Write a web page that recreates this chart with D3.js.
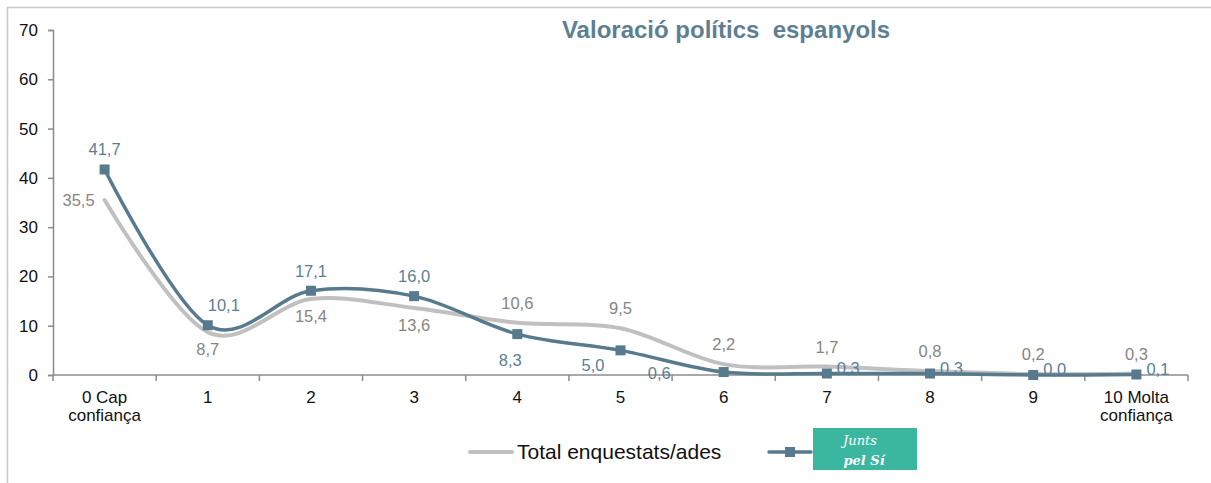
<!DOCTYPE html>
<html>
<head>
<meta charset="utf-8">
<script src="https://cdn.jsdelivr.net/npm/d3@7"></script>
<style>
  body { margin: 0; background: #fff; }
  #chart { width: 1211px; height: 483px; }
  text { font-family: "Liberation Sans", Arial, sans-serif; }
</style>
</head>
<body>
<div id="chart"></div>
<script>
// data
const categories = ["0 Cap|confiança", "1", "2", "3", "4", "5", "6", "7", "8", "9", "10 Molta|confiança"];
const totalValues = [35.5, 8.7, 15.4, 13.6, 10.6, 9.5, 2.2, 1.7, 0.8, 0.2, 0.3];
const jxsiValues = [41.7, 10.1, 17.1, 16.0, 8.3, 5.0, 0.6, 0.3, 0.3, 0.0, 0.1];
const yTicks = [0, 10, 20, 30, 40, 50, 60, 70];
// where each data label sits relative to its point
const totalLabelPos = ["left", "below", "below", "below", "above", "above", "above", "above", "above", "above", "above"];
const jxsiLabelPos = ["above", "aboveRight", "above", "above", "lowBelow", "belowLeft", "farLeft", "right", "right", "right", "right"];

const grayColor = "#c0c0c0";
const blueColor = "#587a8e";

const margin = { top: 30, right: 23, bottom: 108, left: 53 };
const W = 1211, H = 483;
const width = W - margin.left - margin.right;
const height = H - margin.top - margin.bottom;

const svgRoot = d3.select("#chart").append("svg")
    .attr("width", W).attr("height", H);

// frame (only top/left visible)
svgRoot.append("rect")
    .attr("x", 7.5).attr("y", 7.5)
    .attr("width", W + 20).attr("height", H + 20)
    .attr("fill", "none")
    .attr("stroke", "#c8c8c8")
    .attr("stroke-width", 1.5);

const svg = svgRoot.append("g")
    .attr("transform", `translate(${margin.left},${margin.top})`);

const x = d3.scaleBand().domain(d3.range(categories.length)).range([0, width]);
const cx = i => x(i) + x.bandwidth() / 2;
const y = d3.scaleLinear().domain([0, 70]).range([height, 0]);

// y axis
const yAxis = svg.append("g")
    .call(d3.axisLeft(y).tickValues(yTicks).tickSize(5).tickPadding(10));
yAxis.select(".domain").attr("stroke", "#8c8c8c").attr("stroke-width", 1.5);
yAxis.selectAll(".tick line").attr("stroke", "#8c8c8c").attr("stroke-width", 1.5);
yAxis.selectAll(".tick text")
    .style("font-size", "17px").attr("fill", "#111")
    .style("font-family", "'Liberation Sans', Arial, sans-serif");

// x axis with ticks at band boundaries
const xg = svg.append("g").attr("transform", `translate(0,${height})`);
xg.append("line")
    .attr("x1", 0).attr("x2", width)
    .attr("stroke", "#8c8c8c").attr("stroke-width", 1.5);
xg.selectAll(".xt")
    .data(d3.range(categories.length + 1))
    .enter().append("line")
    .attr("x1", i => i < categories.length ? x(i) : width)
    .attr("x2", i => i < categories.length ? x(i) : width)
    .attr("y1", 0).attr("y2", 6)
    .attr("stroke", "#8c8c8c").attr("stroke-width", 1.5);
const xl = xg.selectAll(".xl")
    .data(categories)
    .enter().append("text")
    .attr("x", (d, i) => cx(i))
    .attr("y", 28)
    .attr("text-anchor", "middle")
    .style("font-size", "17px")
    .attr("fill", "#111");
xl.each(function(d) {
    const parts = d.split("|");
    parts.forEach((p, k) => {
        d3.select(this).append("tspan")
            .attr("x", d3.select(this).attr("x"))
            .attr("dy", k === 0 ? 0 : 18)
            .text(p);
    });
});

// lines
const line = d3.line()
    .x((d, i) => cx(i))
    .y(d => y(d))
    .curve(d3.curveCardinal.tension(0));

svg.append("path")
    .datum(totalValues)
    .attr("fill", "none")
    .attr("stroke", grayColor)
    .attr("stroke-width", 4)
    .attr("stroke-linecap", "round")
    .attr("d", line);

svg.append("path")
    .datum(jxsiValues)
    .attr("fill", "none")
    .attr("stroke", blueColor)
    .attr("stroke-width", 3.5)
    .attr("stroke-linecap", "round")
    .attr("d", line);

svg.selectAll(".mk")
    .data(jxsiValues)
    .enter().append("rect")
    .attr("x", (d, i) => cx(i) - 5)
    .attr("y", d => y(d) - 5)
    .attr("width", 10).attr("height", 10)
    .attr("fill", blueColor);

// labels
const fmt = v => v.toFixed(1).replace(".", ",");
const offsets = {
    above: [0, -14, "middle"],
    below: [0, 23, "middle"],
    left: [-10, 6, "end"],
    right: [10, 0, "start"],
    aboveRight: [0, -14, "start"],
    belowLeft: [-16, 21, "end"],
    lowBelow: [-7, 32, "middle"],
    farLeft: [-53, 7, "end"]
};

function drawLabels(values, pos, color) {
    svg.selectAll(null)
        .data(values)
        .enter().append("text")
        .attr("x", (d, i) => cx(i) + offsets[pos[i]][0])
        .attr("y", (d, i) => y(d) + offsets[pos[i]][1])
        .attr("text-anchor", (d, i) => offsets[pos[i]][2])
        .style("font-size", "16.5px")
        .attr("fill", color)
        .text(fmt);
}
drawLabels(totalValues, totalLabelPos, "#858585");
drawLabels(jxsiValues, jxsiLabelPos, "#5b7f96");

// title
svgRoot.append("text")
    .attr("x", 726).attr("y", 38)
    .attr("text-anchor", "middle")
    .style("font-size", "24px")
    .style("font-weight", "bold")
    .style("white-space", "pre")
    .attr("fill", "#5e7f92")
    .text("Valoració polítics  espanyols");

// legend
const lg = svgRoot.append("g").attr("transform", "translate(0,452)");
lg.append("line")
    .attr("x1", 470).attr("x2", 512)
    .attr("stroke", grayColor).attr("stroke-width", 4).attr("stroke-linecap", "round");
lg.append("text")
    .attr("x", 517).attr("y", 7)
    .style("font-size", "21px").attr("fill", "#111")
    .text("Total enquestats/ades");
lg.append("line")
    .attr("x1", 769).attr("x2", 811)
    .attr("stroke", blueColor).attr("stroke-width", 3.5).attr("stroke-linecap", "round");
lg.append("rect")
    .attr("x", 785).attr("y", -5).attr("width", 10).attr("height", 10)
    .attr("fill", blueColor);
lg.append("rect")
    .attr("x", 813).attr("y", -24).attr("width", 104).attr("height", 42)
    .attr("fill", "#3bb79f");
lg.append("text")
    .attr("x", 860).attr("y", -7)
    .attr("text-anchor", "middle")
    .style("font-size", "13px").style("font-style", "italic")
    .style("font-family", "'DejaVu Serif', serif")
    .attr("fill", "#fff")
    .text("Junts");
lg.append("text")
    .attr("x", 864).attr("y", 13)
    .attr("text-anchor", "middle")
    .style("font-size", "13px").style("font-style", "italic").style("font-weight", "bold")
    .style("font-family", "'DejaVu Serif', serif")
    .attr("fill", "#fff")
    .text("pel Sí");
</script>
</body>
</html>
